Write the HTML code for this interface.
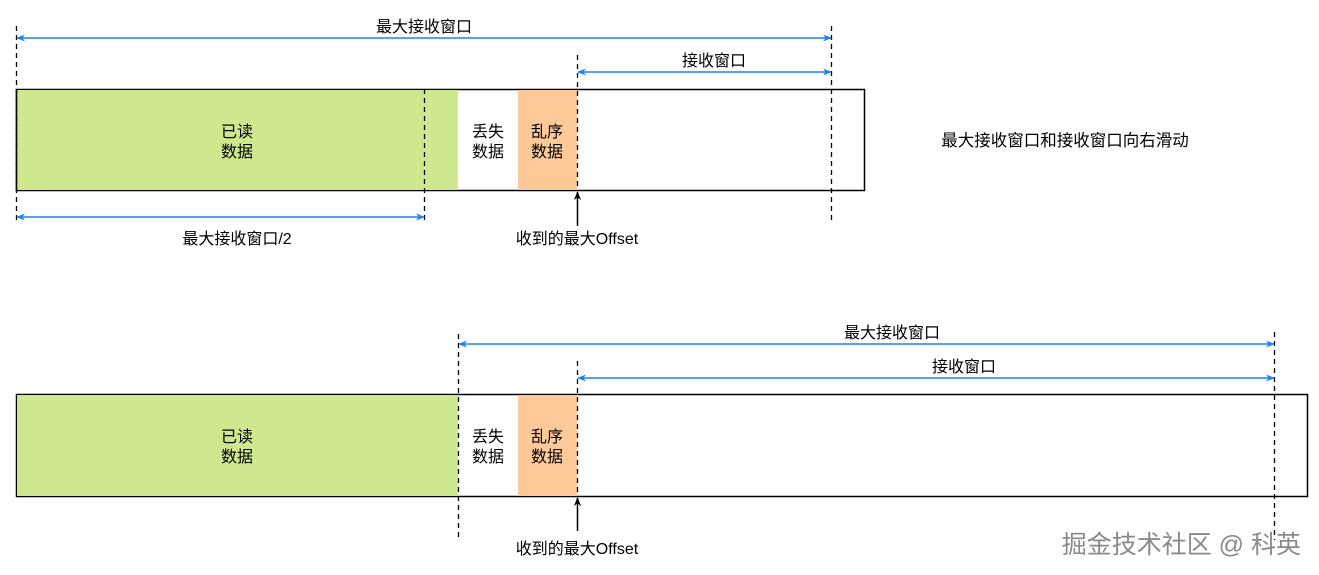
<!DOCTYPE html>
<html><head><meta charset="utf-8"><style>
html,body{margin:0;padding:0;background:#fff;width:1319px;height:575px;overflow:hidden}
svg{display:block}
text{font-family:"Liberation Sans","Noto Sans CJK SC",sans-serif;font-size:16px;fill:#000}
</style></head><body>
<svg width="1319" height="575" xmlns="http://www.w3.org/2000/svg">
<defs>
<marker id="b" viewBox="0 0 10 10" refX="9" refY="5" markerWidth="9" markerHeight="9" orient="auto-start-reverse" markerUnits="userSpaceOnUse"><path d="M0,1 L10,5 L0,9 L3,5 z" fill="#1a84f0"/></marker>
<marker id="k" viewBox="0 0 10 10" refX="9" refY="5" markerWidth="9" markerHeight="9" orient="auto" markerUnits="userSpaceOnUse"><path d="M0,1 L10,5 L0,9 L3,5 z" fill="#000"/></marker>
</defs>
<!-- TOP -->
<rect x="16.5" y="89.5" width="848" height="101" fill="#fff" stroke="#000" stroke-width="1.5"/>
<rect x="17" y="90" width="441" height="100" fill="#cfe88d"/>
<rect x="518" y="90" width="59" height="100" fill="#fdc998"/>
<line x1="16.5" y1="89.5" x2="16.5" y2="190.5" stroke="#000" stroke-width="1.5"/>
<g stroke="#000" stroke-width="1.3" stroke-dasharray="5,4" fill="none">
<line x1="16.5" y1="26" x2="16.5" y2="224"/>
<line x1="424.5" y1="89" x2="424.5" y2="224"/>
<line x1="577.5" y1="55" x2="577.5" y2="191"/>
<line x1="831.5" y1="26" x2="831.5" y2="224"/>
</g>
<g stroke="#1a84f0" stroke-width="1.5">
<line x1="17" y1="38" x2="831" y2="38" marker-start="url(#b)" marker-end="url(#b)"/>
<line x1="578" y1="72" x2="831" y2="72" marker-start="url(#b)" marker-end="url(#b)"/>
<line x1="17" y1="217" x2="424" y2="217" marker-start="url(#b)" marker-end="url(#b)"/>
</g>
<line x1="577.5" y1="226" x2="577.5" y2="192" stroke="#000" stroke-width="1.5" marker-end="url(#k)"/>
<text x="424" y="32" text-anchor="middle">最大接收窗口</text>
<text x="714" y="66" text-anchor="middle">接收窗口</text>
<text x="237" y="137" text-anchor="middle">已读</text>
<text x="237" y="157" text-anchor="middle">数据</text>
<text x="488" y="137" text-anchor="middle">丢失</text>
<text x="488" y="157" text-anchor="middle">数据</text>
<text x="547" y="137" text-anchor="middle">乱序</text>
<text x="547" y="157" text-anchor="middle">数据</text>
<text x="237" y="244" text-anchor="middle">最大接收窗口/2</text>
<text x="577" y="244" text-anchor="middle">收到的最大Offset</text>
<text x="1065" y="146" text-anchor="middle" style="font-size:16.5px">最大接收窗口和接收窗口向右滑动</text>
<!-- BOTTOM -->
<rect x="16.5" y="394.5" width="1291" height="102" fill="#fff" stroke="#000" stroke-width="1.5"/>
<rect x="17" y="395" width="441" height="101" fill="#cfe88d"/>
<rect x="518" y="395" width="59" height="101" fill="#fdc998"/>
<g stroke="#000" stroke-width="1.3" stroke-dasharray="5,4" fill="none">
<line x1="458.5" y1="334" x2="458.5" y2="540"/>
<line x1="577.5" y1="361" x2="577.5" y2="497"/>
<line x1="1274.5" y1="332" x2="1274.5" y2="540"/>
</g>
<g stroke="#1a84f0" stroke-width="1.5">
<line x1="459" y1="344" x2="1274" y2="344" marker-start="url(#b)" marker-end="url(#b)"/>
<line x1="578" y1="378" x2="1274" y2="378" marker-start="url(#b)" marker-end="url(#b)"/>
</g>
<line x1="577.5" y1="531" x2="577.5" y2="498" stroke="#000" stroke-width="1.5" marker-end="url(#k)"/>
<text x="892" y="338" text-anchor="middle">最大接收窗口</text>
<text x="964" y="372" text-anchor="middle">接收窗口</text>
<text x="237" y="442" text-anchor="middle">已读</text>
<text x="237" y="462" text-anchor="middle">数据</text>
<text x="488" y="442" text-anchor="middle">丢失</text>
<text x="488" y="462" text-anchor="middle">数据</text>
<text x="547" y="442" text-anchor="middle">乱序</text>
<text x="547" y="462" text-anchor="middle">数据</text>
<text x="577" y="554" text-anchor="middle">收到的最大Offset</text>
<text x="1301" y="553" text-anchor="end" style="font-size:25px;fill:#8a8a8a">掘金技术社区 @ 科英</text>
</svg>
</body></html>
